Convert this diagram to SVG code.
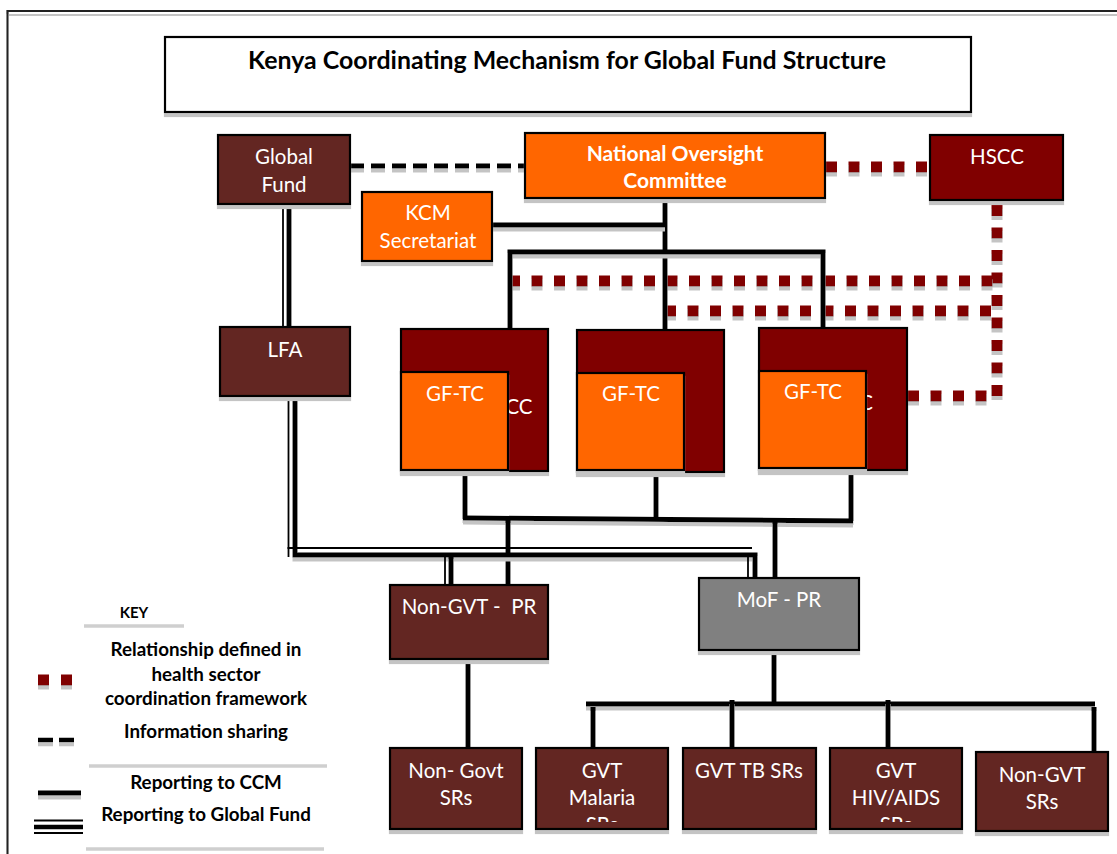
<svg xmlns="http://www.w3.org/2000/svg" width="1117" height="854" viewBox="0 0 1117 854">
<defs>
<filter id="sh" filterUnits="userSpaceOnUse" x="0" y="0" width="1117" height="854"><feDropShadow dx="0" dy="4" stdDeviation="0.6" flood-color="#c4c4c4" flood-opacity="1"/></filter>
<clipPath id="cm"><rect x="536" y="748" width="132" height="74"/></clipPath>
<clipPath id="ch"><rect x="830" y="748" width="132" height="74"/></clipPath>
<clipPath id="c3"><rect x="866" y="380" width="40" height="40"/></clipPath>
</defs>
<style>
.box{stroke:#000;stroke-width:2.2;filter:url(#sh)}
.brown{fill:#632523}
.maroon{fill:#800000}
.orange{fill:#FF6600}
.grey{fill:#808080}
.t{font-family:Lato,"Liberation Sans",sans-serif;font-size:20.5px;fill:#fff;text-anchor:middle}
.tb{font-family:Lato,"Liberation Sans",sans-serif;font-size:21px;font-weight:bold;fill:#fff;text-anchor:middle}
.k{font-family:Lato,"Liberation Sans",sans-serif;font-size:18.8px;font-weight:bold;fill:#000;text-anchor:middle}
.ln{fill:none;stroke:#000;stroke-width:5;filter:url(#sh)}
.thin{fill:none;stroke:#000;stroke-width:1.8}
.dash{fill:none;stroke:#000;stroke-width:5;stroke-dasharray:14 7;filter:url(#sh)}
.dot{fill:none;stroke:#800000;stroke-width:11;stroke-dasharray:11 11.5;filter:url(#sh)}
.gl{stroke:#cfcfcf;stroke-width:3.5}
</style>
<rect width="1117" height="854" fill="#fff"/>
<g id="frame">
<path d="M7.5 854 V11 H1117" fill="none" stroke="#222" stroke-width="2.2" filter="url(#sh)"/>
</g>
<g id="title">
<rect x="165" y="37" width="806" height="75" fill="#fff" class="box"/>
<text x="567" y="69" font-family="Lato,'Liberation Sans',sans-serif" font-size="24" font-weight="bold" text-anchor="middle" fill="#000" textLength="638" lengthAdjust="spacingAndGlyphs">Kenya Coordinating Mechanism for Global Fund Structure</text>
</g>
<g id="connectors">
<line class="dash" x1="350" y1="166" x2="525" y2="166"/>
<line class="dot" x1="826" y1="167" x2="930" y2="167"/>
<line class="dot" x1="997" y1="205" x2="997" y2="402"/>
<line class="dot" x1="509" y1="281" x2="997" y2="281"/>
<line class="dot" x1="665" y1="311" x2="995" y2="311"/>
<line class="dot" x1="908" y1="396" x2="992" y2="396"/>
<path class="ln" d="M665 198 V330"/>
<path class="ln" d="M492 225 H665"/>
<path class="ln" d="M510 329 V252 H823 V328"/>
<path class="ln" d="M465 470 V519"/>
<path class="ln" d="M656 471 V519"/>
<path class="ln" d="M851 469 V521"/>
<path class="ln" d="M463 518 L853 521"/>
<path class="ln" d="M508 519 V585"/>
<path class="ln" d="M775 520 V578"/>
<path class="ln" d="M289 204 L289 327"/>
<line class="thin" x1="283" y1="204" x2="283" y2="327"/>
<path class="ln" d="M295 396 V555 H755 V578"/>
<path class="ln" d="M451 555 V585"/>
<line class="thin" x1="288.5" y1="396" x2="288.5" y2="557"/>
<line class="thin" x1="287.5" y1="548" x2="752" y2="548"/>
<line class="thin" x1="748" y1="557" x2="748" y2="578"/>
<line class="thin" x1="445" y1="557" x2="445" y2="585"/>
<path class="ln" d="M468 659 V750"/>
<path class="ln" d="M774 650 V704"/>
<path class="ln" d="M586 704 H1095"/>
<path class="ln" d="M593 707 V755"/>
<path class="ln" d="M732 700 V749"/>
<path class="ln" d="M888 700 V749"/>
<path class="ln" d="M1094 707 V756"/>
</g>
<g id="global-fund">
<rect x="218" y="135" width="132" height="69" class="box brown"/>
<text class="t" x="284" y="164">Global</text>
<text class="t" x="284" y="192">Fund</text>
</g>
<g id="noc">
<rect x="525" y="133" width="300" height="65" class="box orange"/>
<text class="tb" x="675" y="161">National Oversight</text>
<text class="tb" x="675" y="188">Committee</text>
</g>
<g id="hscc">
<rect x="930" y="135" width="133" height="65" class="box maroon"/>
<text class="t" x="997" y="164">HSCC</text>
</g>
<g id="kcm-secretariat">
<rect x="362" y="192" width="130" height="69" class="box orange"/>
<text class="t" x="428" y="220">KCM</text>
<text class="t" x="428" y="248">Secretariat</text>
</g>
<g id="lfa">
<rect x="220" y="327" width="130" height="69" class="box brown"/>
<text class="t" x="285" y="357">LFA</text>
</g>
<g id="gftc-1">
<rect x="401" y="329" width="147" height="142" class="box maroon"/>
<text class="t" x="519" y="414">CC</text>
<rect x="401" y="372" width="107" height="98" class="box orange"/>
<text class="t" x="455" y="401">GF-TC</text>
</g>
<g id="gftc-2">
<rect x="577" y="330" width="147" height="142" class="box maroon"/>
<rect x="577" y="373" width="107" height="97" class="box orange"/>
<text class="t" x="631" y="401">GF-TC</text>
</g>
<g id="gftc-3">
<rect x="759" y="328" width="148" height="142" class="box maroon"/>
<text class="t" x="866" y="410" clip-path="url(#c3)" text-anchor="start">C</text>
<rect x="759" y="371" width="107" height="97" class="box orange"/>
<text class="t" x="813" y="399">GF-TC</text>
</g>
<g id="non-gvt-pr">
<rect x="390" y="585" width="158" height="74" class="box brown"/>
<text class="t" x="469" y="614" xml:space="preserve">Non-GVT -  PR</text>
</g>
<g id="mof-pr">
<rect x="699" y="578" width="160" height="72" class="box grey"/>
<text class="t" x="779" y="607">MoF - PR</text>
</g>
<g id="non-govt-srs">
<rect x="390" y="748" width="132" height="81" class="box brown"/>
<text class="t" x="456" y="778">Non- Govt</text>
<text class="t" x="456" y="805">SRs</text>
</g>
<g id="gvt-malaria-srs">
<rect x="536" y="748" width="132" height="81" class="box brown"/>
<g clip-path="url(#cm)">
<text class="t" x="602" y="778">GVT</text>
<text class="t" x="602" y="805">Malaria</text>
<text class="t" x="602" y="832">SRs</text>
</g>
</g>
<g id="gvt-tb-srs">
<rect x="683" y="748" width="133" height="81" class="box brown"/>
<text class="t" x="749" y="778">GVT TB SRs</text>
</g>
<g id="gvt-hiv-srs">
<rect x="830" y="748" width="132" height="81" class="box brown"/>
<g clip-path="url(#ch)">
<text class="t" x="896" y="778">GVT</text>
<text class="t" x="896" y="805">HIV/AIDS</text>
<text class="t" x="896" y="832">SRs</text>
</g>
</g>
<g id="non-gvt-srs">
<rect x="976" y="752" width="132" height="79" class="box brown"/>
<text class="t" x="1042" y="782">Non-GVT</text>
<text class="t" x="1042" y="809">SRs</text>
</g>
<g id="key">
<text class="k" x="134" y="618" style="font-size:15px">KEY</text>
<line class="gl" x1="84" y1="626" x2="184" y2="626"/>
<text class="k" x="206" y="656">Relationship defined in</text>
<text class="k" x="206" y="681">health sector</text>
<text class="k" x="206" y="705">coordination framework</text>
<line class="dot" x1="38" y1="680" x2="73" y2="680" style="stroke-dasharray:11 12"/>
<text class="k" x="206" y="738">Information sharing</text>
<line class="dash" x1="38" y1="740" x2="76" y2="740" style="stroke-dasharray:15 6;stroke-width:4.5"/>
<line class="gl" x1="89" y1="766" x2="327" y2="766"/>
<text class="k" x="206" y="789">Reporting to CCM</text>
<line class="ln" x1="38" y1="793" x2="81" y2="793"/>
<text class="k" x="206" y="821">Reporting to Global Fund</text>
<line class="thin" x1="34" y1="820.5" x2="83" y2="820.5"/>
<line x1="34" y1="827" x2="83" y2="827" stroke="#000" stroke-width="4.5"/>
<line class="thin" x1="34" y1="833" x2="83" y2="833"/>
<line class="gl" x1="86" y1="849" x2="324" y2="849"/>
</g>
</svg>
